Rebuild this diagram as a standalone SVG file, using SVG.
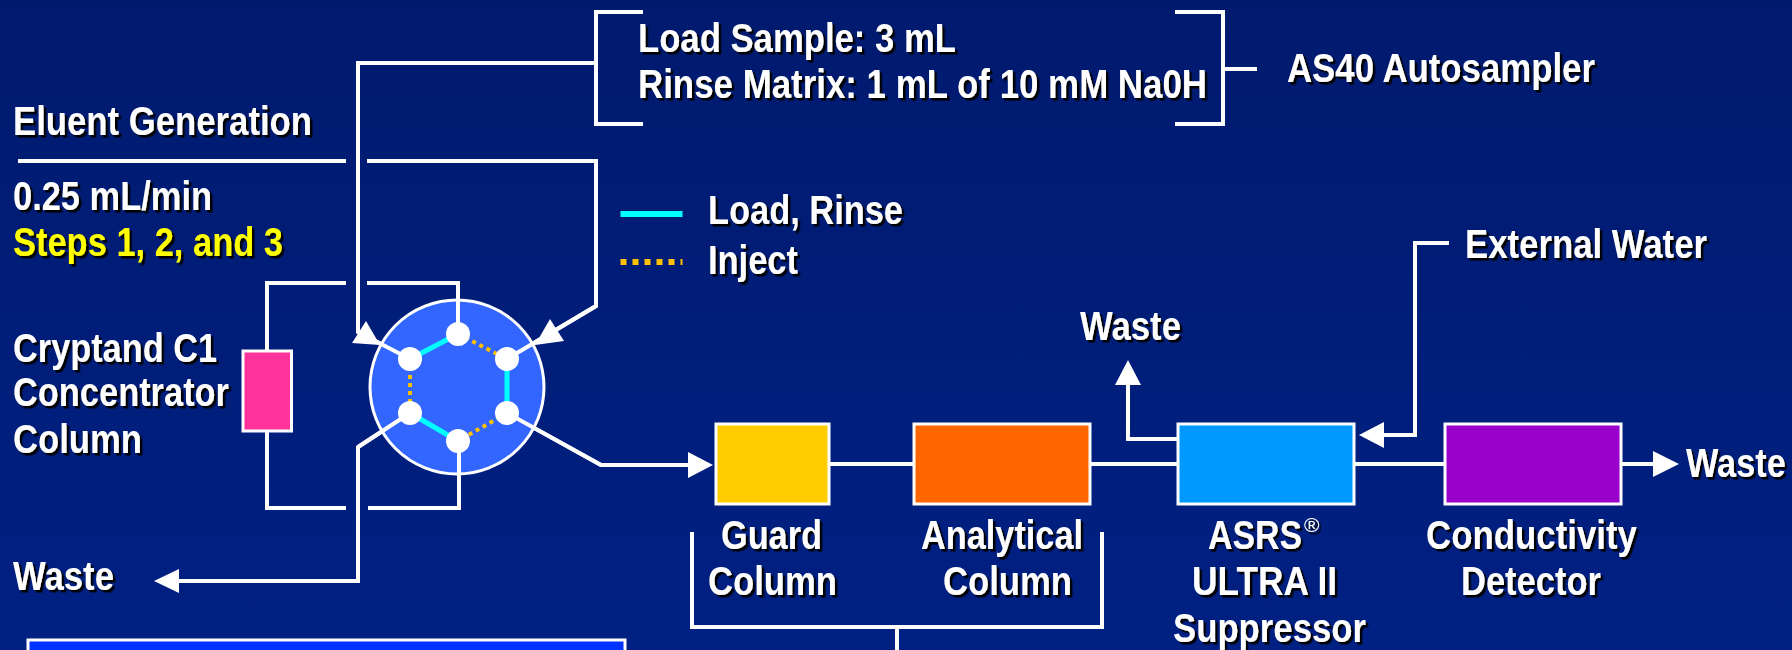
<svg xmlns="http://www.w3.org/2000/svg" width="1792" height="650" viewBox="0 0 1792 650">
<style>
text{font-family:"Liberation Sans",Arial,sans-serif;font-size:41px;font-weight:700;fill:#fff;filter:url(#sh)}
.y{fill:#ffff00}
.c{fill:none;stroke:#fff;stroke-width:4}
.a{fill:#fff;stroke:none}
.box{stroke:#fff;stroke-width:3}
.cy{stroke:#00ffff;stroke-width:5;fill:none}
.dot{stroke:#ffc000;stroke-width:4;stroke-dasharray:4 4;fill:none}
.dotl{stroke:#ffc000;stroke-width:6;stroke-dasharray:6 6;fill:none}
.port{fill:#fff}
</style>
<defs>
<linearGradient id="bg" x1="0" y1="0" x2="0" y2="1"><stop offset="0" stop-color="#001a6e"/><stop offset="1" stop-color="#002083"/></linearGradient>
<filter id="sh" x="-5%" y="-5%" width="110%" height="115%"><feDropShadow dx="2.500" dy="2.500" stdDeviation="0" flood-color="#000"/></filter>
</defs>
<rect width="1792" height="650" fill="url(#bg)"/>
<g id="connectors">
<path class="c" d="M643 12H596V124H643M596 63H358V332L410 359"/>
<path class="c" d="M1175 12H1223V124H1175M1223 69H1257"/>
<path class="c" d="M18 161H346M367 161H596V306L507 359"/>
<path class="c" d="M267 350V283H346M367 283H458V334"/>
<path class="c" d="M267 431V508H346M368 508H459V441"/>
<path class="c" d="M410 413L358 447V581H178"/>
<path class="c" d="M507 413L601 465H690"/>
<path class="c" d="M829 464H913M1090 464H1177M1354 464H1445M1622 464H1655"/>
<path class="c" d="M1177 439H1128V383"/>
<path class="c" d="M1449 243H1415V435H1382"/>
<path class="c" d="M692 532V627H1102V532M897 627V650"/>
<polygon class="a" points="154,581 179,569 179,593"/>
<polygon class="a" points="713,465 688,452 688,478"/>
<polygon class="a" points="1128,360 1115,385 1141,385"/>
<polygon class="a" points="1359,435 1384,422 1384,448"/>
<polygon class="a" points="1679,464 1653,451 1653,477"/>
</g>
<g id="legend">
<path class="cy" style="stroke-width:6" d="M620.5 214H682.5"/>
<path class="dotl" d="M620.5 262H682.5"/>
<text x="708" y="224" textLength="195" lengthAdjust="spacingAndGlyphs">Load, Rinse</text>
<text x="708" y="274" textLength="90" lengthAdjust="spacingAndGlyphs">Inject</text>
</g>
<g id="valve">
<circle cx="457" cy="387" r="87" fill="#3366ff" stroke="#fff" stroke-width="3"/>
<path class="c" d="M458 283V334M459 441V508M358 332L410 359M596 306L507 359M410 413L358 447M507 413L601 465"/>
<path class="cy" d="M458 334L410 359M507 359V413M410 413L458 441"/>
<path class="dot" d="M458 334L507 359M410 359V413M507 413L458 441"/>
<polygon class="a" points="352,343 366,321 380,345"/>
<polygon class="a" points="550,319 564,341 535,345"/>
<circle class="port" cx="458" cy="334" r="12"/>
<circle class="port" cx="507" cy="359" r="12"/>
<circle class="port" cx="507" cy="413" r="12"/>
<circle class="port" cx="458" cy="441" r="12"/>
<circle class="port" cx="410" cy="413" r="12"/>
<circle class="port" cx="410" cy="359" r="12"/>
</g>
<g id="eluent"><text x="13" y="135" textLength="299" lengthAdjust="spacingAndGlyphs">Eluent Generation</text>
<text x="13" y="210" textLength="199" lengthAdjust="spacingAndGlyphs">0.25 mL/min</text>
<text class="y" x="13" y="256" textLength="270" lengthAdjust="spacingAndGlyphs">Steps 1, 2, and 3</text></g>
<g id="autosampler"><text x="638" y="52" textLength="318" lengthAdjust="spacingAndGlyphs">Load Sample: 3 mL</text>
<text x="638" y="98" textLength="569" lengthAdjust="spacingAndGlyphs">Rinse Matrix: 1 mL of 10 mM Na0H</text>
<text x="1287" y="82" textLength="308" lengthAdjust="spacingAndGlyphs">AS40 Autosampler</text></g>
<g id="concentrator"><rect class="box" x="243" y="351" width="48.500" height="80" fill="#ff3399"/>
<text x="13" y="362" textLength="204" lengthAdjust="spacingAndGlyphs">Cryptand C1</text>
<text x="13" y="406" textLength="216" lengthAdjust="spacingAndGlyphs">Concentrator</text>
<text x="13" y="453" textLength="129" lengthAdjust="spacingAndGlyphs">Column</text></g>
<g id="waste-left"><text x="13" y="590" textLength="101" lengthAdjust="spacingAndGlyphs">Waste</text></g>
<g id="guard"><rect class="box" x="716" y="424" width="113" height="80" fill="#ffcc00"/>
<text x="721" y="549" textLength="101" lengthAdjust="spacingAndGlyphs">Guard</text>
<text x="708" y="595" textLength="129" lengthAdjust="spacingAndGlyphs">Column</text></g>
<g id="analytical"><rect class="box" x="914" y="424" width="176" height="80" fill="#ff6600"/>
<text x="921" y="549" textLength="162" lengthAdjust="spacingAndGlyphs">Analytical</text>
<text x="943" y="595" textLength="129" lengthAdjust="spacingAndGlyphs">Column</text></g>
<g id="suppressor"><rect class="box" x="1178" y="424" width="176" height="80" fill="#0099ff"/>
<text transform="translate(1208 549) scale(.825 1)">ASRS</text>
<text x="1304" y="532" style="font-size:21px;font-weight:400">®</text>
<text x="1192" y="595" textLength="145" lengthAdjust="spacingAndGlyphs">ULTRA II</text>
<text x="1173" y="642" textLength="193" lengthAdjust="spacingAndGlyphs">Suppressor</text></g>
<g id="detector"><rect class="box" x="1445" y="424" width="176" height="80" fill="#9900cc"/>
<text x="1426" y="549" textLength="211" lengthAdjust="spacingAndGlyphs">Conductivity</text>
<text x="1461" y="595" textLength="140" lengthAdjust="spacingAndGlyphs">Detector</text></g>
<g id="waste-top"><text x="1080" y="340" textLength="101" lengthAdjust="spacingAndGlyphs">Waste</text></g>
<g id="waste-right"><text transform="translate(1686 477) scale(.837 1)">Waste</text></g>
<g id="water"><text x="1465" y="258" textLength="242" lengthAdjust="spacingAndGlyphs">External Water</text></g>
<g id="panel"><rect x="28" y="640" width="597" height="20" fill="#0033ff" stroke="#fff" stroke-width="3"/></g>
</svg>
